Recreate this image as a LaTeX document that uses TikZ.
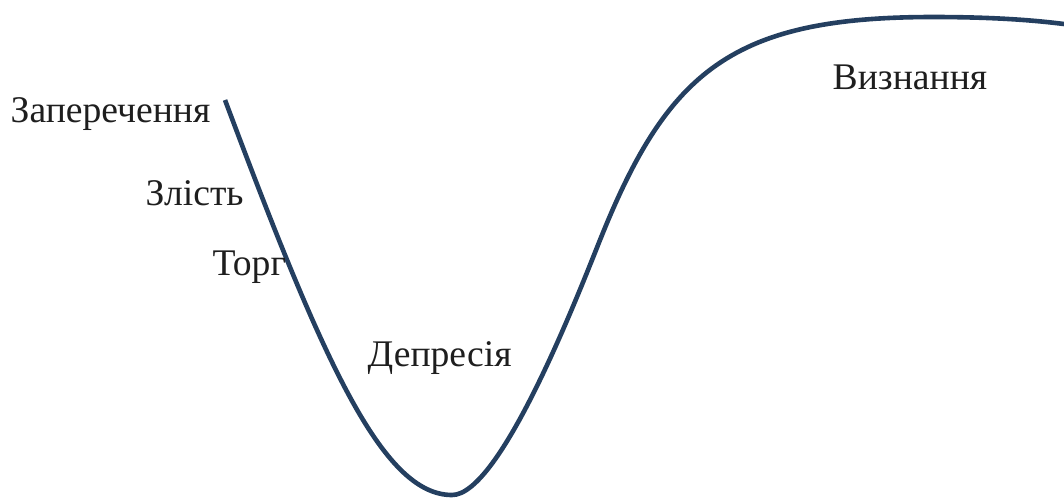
\documentclass[tikz,border=0pt]{standalone}
\usepackage{fontspec}
\setmainfont{Liberation Serif}
\definecolor{curveblue}{HTML}{243F60}
\definecolor{txt}{HTML}{1E1E1E}
\begin{document}
\begin{tikzpicture}[x=0.01cm,y=-0.01cm,
  lbl/.style={anchor=base west,inner sep=0pt,text=txt,font=\fontsize{10.7pt}{12pt}\selectfont},
  stage/.style={draw=curveblue,line width=0.046cm,line cap=butt}]
\useasboundingbox (0,0) rectangle (1064,499);
\coordinate (s) at (225,100);
\coordinate (bot) at (452,495);
\coordinate (inf) at (600,240);
\coordinate (top) at (933,17);
\coordinate (e) at (1064,24);
\draw[stage] (s) .. controls (322.5,360) and (382,495) .. (bot)
  .. controls (500,495) and (576,300) .. (inf)
  .. controls (668,70) and (733,17) .. (top)
  .. controls (1000,17) and (1040,21) .. (e);
\node[lbl] (zap) at (10,122) {Заперечення};
\node[lbl] (zl) at (145,205) {Злість};
\node[lbl] (torg) at (212,275) {Торг};
\node[lbl] (dep) at (367,366) {Депресія};
\node[lbl] (vyz) at (832,89) {Визнання};
\end{tikzpicture}
\end{document}
